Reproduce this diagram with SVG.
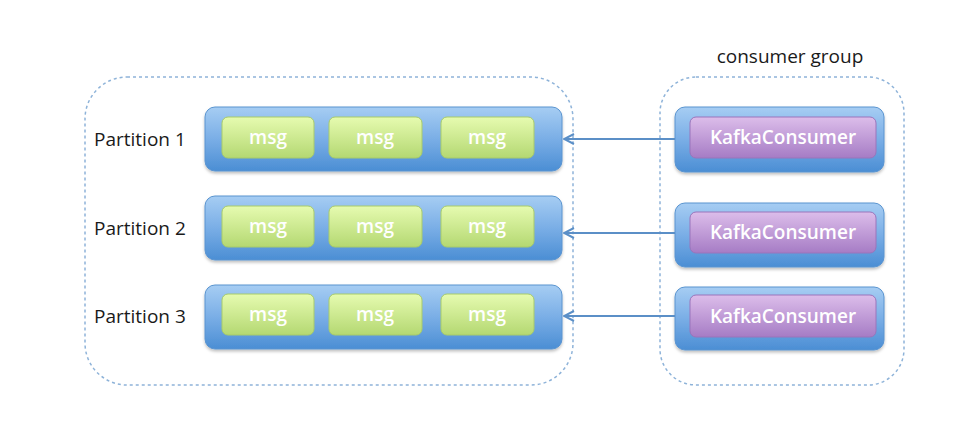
<svg xmlns="http://www.w3.org/2000/svg" width="976" height="431" viewBox="0 0 976 431">
<defs>
<linearGradient id="gBlue" x1="0" y1="0" x2="0" y2="1">
<stop offset="0" stop-color="#a6cdf3"/>
<stop offset="0.5" stop-color="#7aaee6"/>
<stop offset="1" stop-color="#4b8ed4"/>
</linearGradient>
<linearGradient id="gGreen" x1="0" y1="0" x2="0" y2="1">
<stop offset="0" stop-color="#e6fbb0"/>
<stop offset="1" stop-color="#b4d872"/>
</linearGradient>
<linearGradient id="gPurple" x1="0" y1="0" x2="0" y2="1">
<stop offset="0" stop-color="#dcbdea"/>
<stop offset="1" stop-color="#a67cc5"/>
</linearGradient>
<marker id="arr" viewBox="0 0 12 12" refX="11" refY="6" markerWidth="12" markerHeight="12" markerUnits="userSpaceOnUse" orient="auto">
<path d="M1,1 L11,6 L1,11" fill="none" stroke="#5b8fc7" stroke-width="2"/>
</marker>
<filter id="sh" x="-10%" y="-20%" width="120%" height="150%">
<feDropShadow dx="0" dy="2" stdDeviation="1.5" flood-color="#000" flood-opacity="0.25"/>
</filter>
</defs>
<style>
.grp{fill:none;stroke:#8eb3d9;stroke-width:1.5;stroke-dasharray:3 3}
.bar{fill:url(#gBlue);stroke:#5a94d0;stroke-width:1;filter:url(#sh)}
.msg{fill:url(#gGreen);stroke:#a8cb6a;stroke-width:1}
.kc{fill:url(#gPurple);stroke:#9a74bb;stroke-width:1}
.wt{font-family:"Open Sans","Liberation Sans",sans-serif;font-size:19px;font-weight:600;fill:#ffffff;text-anchor:middle}
.lbl{font-family:"Open Sans","Liberation Sans",sans-serif;font-size:19px;fill:#1a1a1a}
.conn{stroke:#5b8fc7;stroke-width:2;fill:none}
</style>
<g id="partitions-group">
<rect class="grp" x="85" y="77" width="488" height="308" rx="42"/>
</g>
<g id="consumer-group">
<rect class="grp" x="660" y="77" width="244" height="308" rx="36"/>
<text class="lbl" x="790" y="63" text-anchor="middle">consumer group</text>
</g>
<g id="partition1">
<text class="lbl" x="94" y="146">Partition 1</text>
<rect class="bar" x="205" y="107" width="357" height="64" rx="10"/>
<rect class="msg" x="222" y="117" width="92" height="41" rx="6"/>
<text class="wt" x="268" y="144">msg</text>
<rect class="msg" x="329" y="117" width="93" height="41" rx="6"/>
<text class="wt" x="375" y="144">msg</text>
<rect class="msg" x="441" y="117" width="93" height="41" rx="6"/>
<text class="wt" x="487" y="144">msg</text>
</g>
<g id="partition2">
<text class="lbl" x="94" y="235">Partition 2</text>
<rect class="bar" x="205" y="196" width="357" height="64" rx="10"/>
<rect class="msg" x="222" y="206" width="92" height="41" rx="6"/>
<text class="wt" x="268" y="233">msg</text>
<rect class="msg" x="329" y="206" width="93" height="41" rx="6"/>
<text class="wt" x="375" y="233">msg</text>
<rect class="msg" x="441" y="206" width="93" height="41" rx="6"/>
<text class="wt" x="487" y="233">msg</text>
</g>
<g id="partition3">
<text class="lbl" x="94" y="323">Partition 3</text>
<rect class="bar" x="205" y="285" width="357" height="64" rx="10"/>
<rect class="msg" x="222" y="294" width="92" height="41" rx="6"/>
<text class="wt" x="268" y="321">msg</text>
<rect class="msg" x="329" y="294" width="93" height="41" rx="6"/>
<text class="wt" x="375" y="321">msg</text>
<rect class="msg" x="441" y="294" width="93" height="41" rx="6"/>
<text class="wt" x="487" y="321">msg</text>
</g>
<g id="consumer1">
<rect class="bar" x="675" y="107" width="209" height="65" rx="10"/>
<rect class="kc" x="690" y="117" width="186" height="41" rx="6"/>
<text class="wt" x="783" y="144">KafkaConsumer</text>
</g>
<g id="consumer2">
<rect class="bar" x="675" y="203" width="209" height="64" rx="10"/>
<rect class="kc" x="690" y="212" width="186" height="41" rx="6"/>
<text class="wt" x="783" y="239">KafkaConsumer</text>
</g>
<g id="consumer3">
<rect class="bar" x="675" y="287" width="209" height="63" rx="10"/>
<rect class="kc" x="690" y="295" width="186" height="42" rx="6"/>
<text class="wt" x="783" y="323">KafkaConsumer</text>
</g>
<g id="connectors">
<line class="conn" x1="675" y1="139" x2="564" y2="139" marker-end="url(#arr)"/>
<line class="conn" x1="675" y1="233" x2="564" y2="233" marker-end="url(#arr)"/>
<line class="conn" x1="675" y1="316" x2="564" y2="316" marker-end="url(#arr)"/>
</g>
</svg>
